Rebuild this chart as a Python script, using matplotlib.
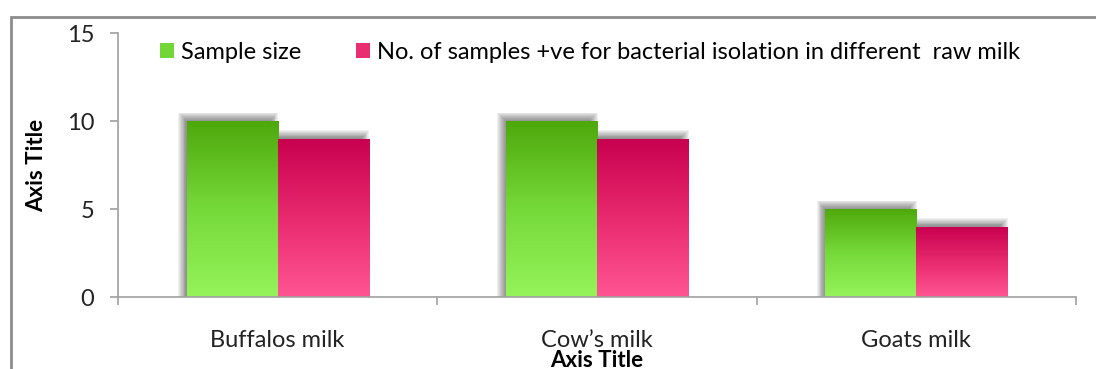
import numpy as np
import matplotlib
matplotlib.use("Agg")
import matplotlib.pyplot as plt
from matplotlib.patches import Rectangle
from matplotlib.colors import LinearSegmentedColormap

categories = ["Buffalos milk", "Cow\u2019s milk", "Goats milk"]
sample_size = [10, 10, 5]
positive = [9, 9, 4]
series_names = ["Sample size",
                "No. of samples +ve for bacterial isolation in different  raw milk"]
yticks = [0, 5, 10, 15]

plt.rcParams['font.family'] = ['Lato', 'DejaVu Sans']
FS = 17

W, H = 1096, 369
fig = plt.figure(figsize=(W / 100, H / 100), dpi=100)
ax = fig.add_axes([118 / W, 1 - 297 / H, (1076 - 118) / W, (297 - 33) / H])

# outer frame
fig.patches.append(Rectangle((11 / W, -0.1), 1.2, 1 - 17 / H + 0.1, transform=fig.transFigure,
                             fill=False, edgecolor='#8c8c8c', linewidth=2.0))

ax.set_xlim(-0.5, 2.5)
ax.set_ylim(0, 15)
x = np.arange(len(categories))
bw = 0.285

green_cmap = LinearSegmentedColormap.from_list('g', ['#94f45a', '#76d93a', '#4ea80c'])
pink_cmap = LinearSegmentedColormap.from_list('p', ['#ff5592', '#e82a6e', '#c8004f'])

px_x = 3.0 / (1076 - 118)
px_y = 15.0 / (297 - 33)


def draw_bar(xc, h, cmap):
    x0 = xc - bw / 2
    # soft shadow (up-left)
    n = 12
    for k in range(n):
        g = (k - n / 2) * 0.9
        sx = x0 - 4 * px_x - g * px_x
        sw = bw + 2 * g * px_x
        sh = h + 4 * px_y + g * px_y
        ax.add_patch(Rectangle((sx, 0), sw, sh, facecolor='#303030', edgecolor='none',
                               alpha=0.07, zorder=1))
    rect = Rectangle((x0, 0), bw, h, facecolor='none', edgecolor='none', zorder=3)
    ax.add_patch(rect)
    grad = np.linspace(0, 1, 256).reshape(-1, 1)
    im = ax.imshow(grad, cmap=cmap, extent=(x0, x0 + bw, 0, h), origin='lower',
                   aspect='auto', zorder=2, interpolation='bilinear')
    im.set_clip_path(rect)


for i in range(len(categories)):
    draw_bar(x[i] - bw / 2, sample_size[i], green_cmap)
for i in range(len(categories)):
    draw_bar(x[i] + bw / 2, positive[i], pink_cmap)

ax.set_xlim(-0.5, 2.5)
ax.set_ylim(0, 15)

for s in ['top', 'right']:
    ax.spines[s].set_visible(False)
for s in ['left', 'bottom']:
    ax.spines[s].set_color('#a0a0a0')
    ax.spines[s].set_linewidth(1.2)
    ax.spines[s].set_zorder(5)

ax.set_yticks(yticks)
ax.tick_params(axis='y', length=6, color='#a0a0a0', width=1.2, labelsize=FS,
               labelcolor='#222222', pad=11)
ax.set_xticks(x)
ax.set_xticklabels(categories)
ax.set_xticks(np.arange(-0.5, 2.6, 1.0), minor=True)
ax.tick_params(axis='x', which='major', length=0, labelsize=FS, labelcolor='#222222', pad=24)
ax.tick_params(axis='x', which='minor', length=6, color='#a0a0a0', width=1.2)

ax.set_ylabel("Axis Title", fontsize=FS - 1, fontweight='bold', labelpad=14)
ax.set_xlabel("Axis Title", fontsize=FS - 1, fontweight='bold', labelpad=-1)

handles = [Rectangle((0, 0), 1, 1, facecolor='#72d636', edgecolor='none'),
           Rectangle((0, 0), 1, 1, facecolor='#ea2c70', edgecolor='none')]
fig.legend(handles, series_names, loc='upper left', bbox_to_anchor=(160 / W, 1 - 42 / H),
           ncol=2, frameon=False, fontsize=FS, handlelength=0.6, handleheight=0.6,
           handletextpad=0.3, columnspacing=2.3, borderpad=0, borderaxespad=0)

fig.savefig("out.png", dpi=100, facecolor='white')
